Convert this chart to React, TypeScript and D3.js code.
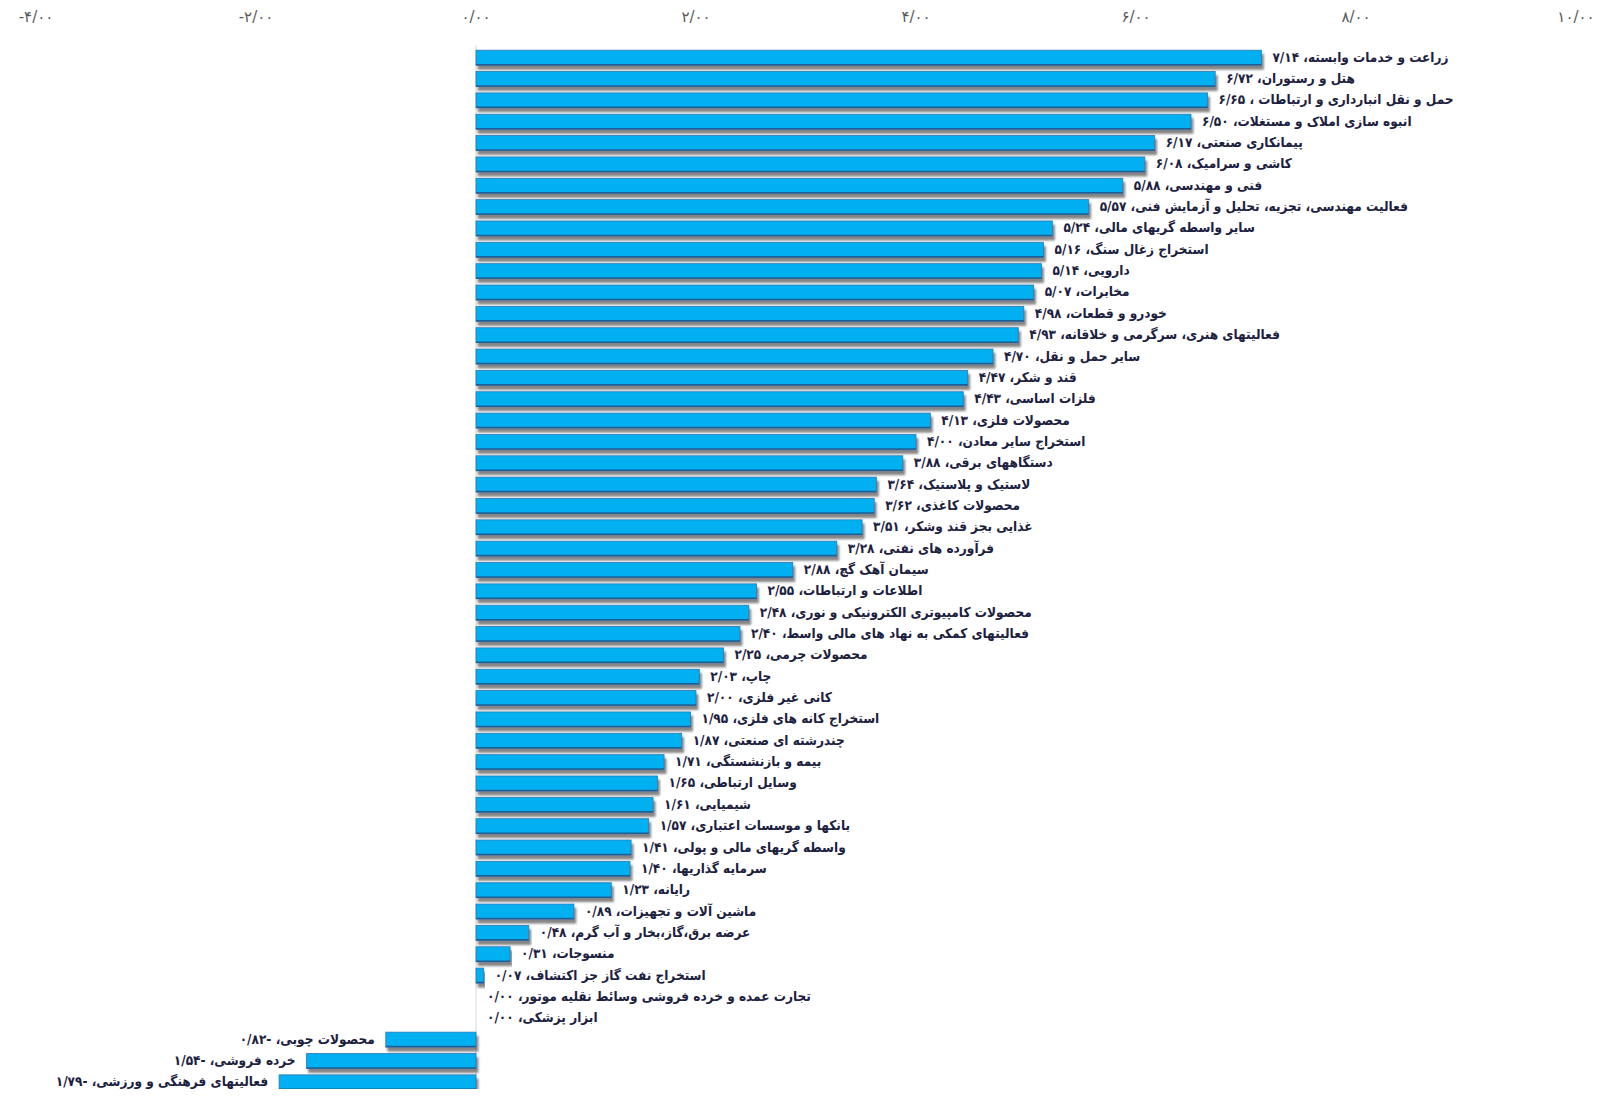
import React from "react";
import * as d3 from "d3";

const categories = [
  "زراعت و خدمات وابسته",
  "هتل و رستوران",
  "حمل و نقل انبارداری و ارتباطات ",
  "انبوه سازی املاک و مستغلات",
  "پیمانکاری صنعتی",
  "کاشی و سرامیک",
  "فنی و مهندسی",
  "فعالیت مهندسی، تجزیه، تحلیل و آزمایش فنی",
  "سایر واسطه گریهای مالی",
  "استخراج زغال سنگ",
  "دارویی",
  "مخابرات",
  "خودرو و قطعات",
  "فعالیتهای هنری، سرگرمی و خلاقانه",
  "سایر حمل و نقل",
  "قند و شکر",
  "فلزات اساسی",
  "محصولات فلزی",
  "استخراج سایر معادن",
  "دستگاههای برقی",
  "لاستیک و پلاستیک",
  "محصولات کاغذی",
  "غذایی بجز قند وشکر",
  "فرآورده های نفتی",
  "سیمان آهک گچ",
  "اطلاعات و ارتباطات",
  "محصولات کامپیوتری الکترونیکی و نوری",
  "فعالیتهای کمکی به نهاد های مالی واسط",
  "محصولات چرمی",
  "چاپ",
  "کانی غیر فلزی",
  "استخراج کانه های فلزی",
  "چندرشته ای صنعتی",
  "بیمه و بازنشستگی",
  "وسایل ارتباطی",
  "شیمیایی",
  "بانکها و موسسات اعتباری",
  "واسطه گریهای مالی و پولی",
  "سرمایه گذاریها",
  "رایانه",
  "ماشین آلات و تجهیزات",
  "عرضه برق،گاز،بخار و آب گرم",
  "منسوجات",
  "استخراج نفت گاز جز اکتشاف",
  "تجارت عمده و خرده فروشی وسائط نقلیه موتور",
  "ابزار پزشکی",
  "محصولات چوبی",
  "خرده فروشی",
  "فعالیتهای فرهنگی و ورزشی",
];

const values = [
  7.14, 6.72, 6.65, 6.5, 6.17, 6.08, 5.88, 5.57, 5.24, 5.16, 5.14, 5.07, 4.98,
  4.93, 4.7, 4.47, 4.43, 4.13, 4.0, 3.88, 3.64, 3.62, 3.51, 3.28, 2.88, 2.55,
  2.48, 2.4, 2.25, 2.03, 2.0, 1.95, 1.87, 1.71, 1.65, 1.61, 1.57, 1.41, 1.4,
  1.23, 0.89, 0.48, 0.31, 0.07, 0.0, 0.0, -0.82, -1.54, -1.79,
];

const tickValues = [-4, -2, 0, 2, 4, 6, 8, 10];

const faDigits = "۰۱۲۳۴۵۶۷۸۹";
const toFa = (s: string) => s.replace(/[0-9]/g, (d) => faDigits[+d]);
const fmt = (v: number) => {
  const s = Math.abs(v).toFixed(2).replace(".", "/");
  return (v < 0 ? "-" : "") + toFa(s);
};

const W = 1608;
const H = 1097;

export default function App() {
  const x = d3.scaleLinear().domain([-4, 10]).range([36, 1576]);
  const y = d3
    .scaleBand<string>()
    .domain(categories)
    .range([47, 1093])
    .paddingInner(0.3)
    .paddingOuter(0.15);
  const x0 = x(0);
  const bh = y.bandwidth();
  const font = "'DejaVu Sans Condensed', 'DejaVu Sans', sans-serif";

  return (
    <svg width={W} height={H} style={{ display: "block", margin: "-8px" }}>
      <defs>
        <filter id="sh" x="-5%" y="-40%" width="110%" height="200%">
          <feDropShadow dx="2" dy="4" stdDeviation="1.3" floodColor="#6f6f6f" floodOpacity="0.85" />
        </filter>
      </defs>
      <rect width={W} height={H} fill="#ffffff" />
      {tickValues.map((t) => (
        <text
          key={t}
          x={x(t)}
          y={17}
          textAnchor="middle"
          dominantBaseline="middle"
          fontFamily="'DejaVu Sans', sans-serif"
          fontSize={15}
          fill="#595959"
        >
          {fmt(t)}
        </text>
      ))}
      <line x1={x0} x2={x0} y1={45} y2={1097} stroke="#d9d9d9" strokeWidth={1} />
      {categories.map((c, i) => {
        const v = values[i];
        const yy = y(c)!;
        const xa = x(Math.min(0, v));
        const w = Math.abs(x(v) - x0);
        return (
          <g key={c}>
            {w > 0 && (
              <g filter="url(#sh)">
                <rect x={xa} y={yy} width={w} height={bh} fill="#00B0F0" stroke="#2a78b8" strokeWidth={0.8} />
                <line x1={xa} x2={xa + w} y1={yy + bh - 0.5} y2={yy + bh - 0.5} stroke="#1f5f96" strokeWidth={1.5} />
              </g>
            )}
          </g>
        );
      })}
      {categories.map((c, i) => {
        const v = values[i];
        const cy = y(c)! + bh / 2;
        const neg = v < 0;
        const lx = neg ? x(v) - 11 : x(v) + 11;
        return (
          <text
            key={"t" + c}
            x={lx}
            y={cy}
            direction="rtl"
            textAnchor={neg ? "start" : "end"}
            dominantBaseline="middle"
            fontFamily={font}
            fontWeight="bold"
            fontSize={13.5}
            fill="#1c2140"
          >
            {c + "، " + fmt(v)}
          </text>
        );
      })}
    </svg>
  );
}
